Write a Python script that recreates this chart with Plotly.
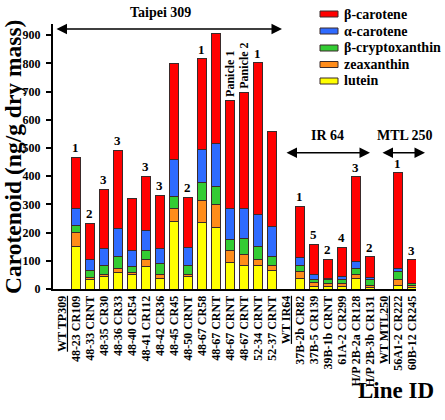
import plotly.graph_objects as go

# ---------------- data ----------------
categories = ["WT TP309", "48-23 CR109", "48-33 CRNT", "48-35 CR30", "48-36 CR33", "48-40 CR54",
              "48-41 CR112", "48-42 CR36", "48-45 CR45", "48-50 CRNT", "48-67 CR58", "48-67 CRNT",
              "48-67 CRNT", "48-67 CRNT", "52-34 CRNT", "52-37 CRNT", "WT IR64", "37B-2b CR82",
              "37B-5 CR139", "39B-1b CRNT", "61A-2 CR299", "H/P 2B-2a CR128", "H/P 2B-3b CR131",
              "WT MTL250", "56A1-2 CR222", "60B-12 CR245"]

lutein = [None, 150, 34, 46, 58, 52, 81, 37, 241, 44, 235, 219, 95, 85, 83, 67,
          None, 36, 10, 10, 8, 36, 6, None, 11, 4]
zeaxanthin = [None, 51, 6, 7, 15, 8, 24, 16, 45, 9, 78, 79, 43, 38, 22, 17,
              None, 25, 12, 8, 10, 14, 6, None, 21, 7]
b_cryptoxanthin = [None, 26, 24, 31, 42, 19, 33, 36, 41, 32, 64, 65, 36, 57, 45, 32,
                   None, 23, 10, 14, 14, 23, 20, None, 29, 8]
a_carotene = [None, 59, 42, 60, 100, 57, 71, 53, 133, 61, 118, 153, 112, 106, 116, 107,
              None, 27, 18, 6, 12, 24, 9, None, 10, 2]
b_carotene = [None, 181, 127, 209, 278, 185, 191, 191, 340, 179, 322, 390, 381, 410, 537, 334,
              None, 183, 108, 68, 104, 301, 74, None, 342, 82]

bar_notes = ["", "1", "2", "3", "3", "", "3", "3", "", "2", "1", "", "Panicle 1", "Panicle 2", "1", "",
             "", "1", "5", "2", "4", "3", "2", "", "1", "3"]

y_ticks = [0, 100, 200, 300, 400, 500, 600, 700, 800, 900]

groups = [("Taipei 309", 55, 282, 29, 160, 12),
          ("IR 64", 285, 370, 152.7, 327, 135),
          ("MTL 250", 381, 425, 152.7, 405, 135)]

series = [("lutein", lutein, "#FFFF00"),
          ("zeaxanthin", zeaxanthin, "#FF8C1A"),
          ("β-cryptoxanthin", b_cryptoxanthin, "#33CC33"),
          ("α-carotene", a_carotene, "#2F6BFF"),
          ("β-carotene", b_carotene, "#FF0000")]

# ---------------- layout helpers ----------------
W, H = 445, 420
L, R, T, B = 53, 29, 24, 131
PW, PH = W - L - R, H - T - B
FONT = "Liberation Serif, Times New Roman, serif"


def px_x(px):
    return (px - L) / PW


def px_y(py):
    return (H - B - py) / PH


xpos = list(range(len(categories)))
ticktext = [("<u>%s</u>" % c) if c.startswith("WT") else c for c in categories]

fig = go.Figure()
for name, vals, col in series:
    fig.add_trace(go.Bar(x=xpos, y=vals, name=name, width=0.6,
                         marker=dict(color=col, line=dict(color="#3a2a2a", width=1)),
                         showlegend=False, hoverinfo="skip"))

totals = []
for i in xpos:
    vals = [s[1][i] for s in series]
    totals.append(None if vals[0] is None else sum(vals))

annotations = []
for i, note in enumerate(bar_notes):
    if not note or totals[i] is None:
        continue
    if note.startswith("Panicle"):
        annotations.append(dict(x=i, y=totals[i], xref="x", yref="y", text=note, showarrow=False,
                                textangle=-90, yanchor="middle", xanchor="center", yshift=27,
                                font=dict(family=FONT, size=12, color="black", weight="bold")))
    else:
        annotations.append(dict(x=i, y=totals[i], xref="x", yref="y", text=note, showarrow=False,
                                yanchor="bottom", yshift=0,
                                font=dict(family=FONT, size=13, color="black", weight="bold")))

for label, x0, x1, ya, tx, ty in groups:
    annotations.append(dict(x=px_x(x1), y=px_y(ya), xref="paper", yref="paper",
                            ax=-(x1 - x0), ay=0, axref="pixel", ayref="pixel", text="",
                            showarrow=True, arrowside="end+start", arrowhead=2, startarrowhead=2,
                            arrowsize=1.4, startarrowsize=1.4, arrowwidth=1.5, arrowcolor="black"))
    annotations.append(dict(x=px_x(tx), y=px_y(ty), xref="paper", yref="paper", text=label,
                            showarrow=False, xanchor="center", yanchor="middle",
                            font=dict(family=FONT, size=14, color="black", weight="bold")))

# y title and x title
annotations.append(dict(x=px_x(13), y=px_y(157), xref="paper", yref="paper",
                        text="Carotenoid (ng/g dry mass)", textangle=-90, showarrow=False,
                        xanchor="center", yanchor="middle",
                        font=dict(family=FONT, size=23.5, color="black", weight="bold")))
annotations.append(dict(x=px_x(396), y=px_y(390), xref="paper", yref="paper",
                        text="Line ID", showarrow=False, xanchor="center", yanchor="middle",
                        font=dict(family=FONT, size=23, color="black", weight="bold")))

# custom legend
shapes = []
leg_rows = [14, 31, 48, 64.5, 81]
for (name, vals, col), ry in zip(reversed(series), leg_rows):
    shapes.append(dict(type="rect", xref="paper", yref="paper",
                       x0=px_x(320), x1=px_x(338), y0=px_y(ry + 3), y1=px_y(ry - 3),
                       fillcolor=col, line=dict(color="#3a2a2a", width=1)))
    annotations.append(dict(x=px_x(342), y=px_y(ry), xref="paper", yref="paper", text=name,
                            showarrow=False, xanchor="left", yanchor="middle",
                            font=dict(family=FONT, size=14, color="black", weight="bold")))

fig.update_layout(
    width=W, height=H, autosize=False,
    margin=dict(l=L, r=R, t=T, b=B, pad=0),
    barmode="stack",
    paper_bgcolor="white", plot_bgcolor="white",
    font=dict(family=FONT, color="black"),
    annotations=annotations, shapes=shapes,
    showlegend=False,
)
fig.update_xaxes(range=[-0.64, 25.29], tickmode="array", tickvals=xpos, ticktext=ticktext,
                 tickangle=-90, ticks="", showline=True, linecolor="black", linewidth=2,
                 showgrid=False, zeroline=False,
                 tickfont=dict(family=FONT, size=12, color="black", weight="bold"))
fig.update_yaxes(range=[0, 940], tickmode="array", tickvals=y_ticks, ticks="outside", ticklen=5,
                 tickwidth=2, tickcolor="black", showline=True, linecolor="black", linewidth=2,
                 showgrid=False, zeroline=False, ticklabelstandoff=3,
                 tickfont=dict(family=FONT, size=12, color="black", weight="bold"))

fig.write_html("out.html", config={"displayModeBar": False},
               post_script="document.body.style.margin='0';document.body.style.overflow='hidden';")
